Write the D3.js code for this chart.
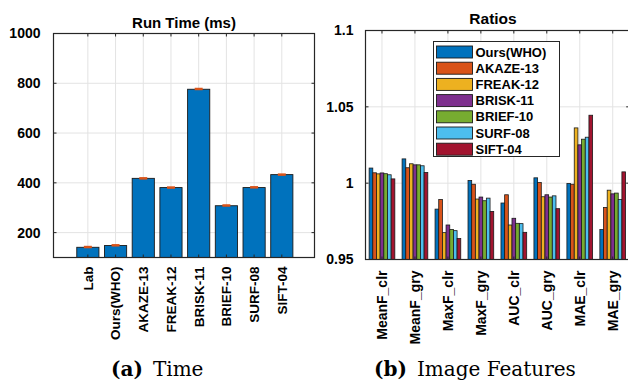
<!DOCTYPE html>
<html>
<head>
<meta charset="utf-8">
<script src="https://cdn.jsdelivr.net/npm/d3@7"></script>
<style>
  body { margin: 0; background: #fff; }
</style>
</head>
<body>
<svg id="fig" width="628" height="383" font-family="'Liberation Sans', Arial, sans-serif"></svg>
<script>
// ---- data ----
const timeCats = ["Lab", "Ours(WHO)", "AKAZE-13", "FREAK-12", "BRISK-11", "BRIEF-10", "SURF-08", "SIFT-04"];
const timeVals = [141, 148, 418, 381, 776, 308, 381, 433];
const timeErr = [4, 4, 3, 3, 4, 4, 4, 3];
const timeTicks = [200, 400, 600, 800, 1000];

const ratioGroups = ["MeanF_clr", "MeanF_gry", "MaxF_clr", "MaxF_gry", "AUC_clr", "AUC_gry", "MAE_clr", "MAE_gry"];
const methods = ["Ours(WHO)", "AKAZE-13", "FREAK-12", "BRISK-11", "BRIEF-10", "SURF-08", "SIFT-04"];
const oursWHO = [1.0099, 1.0159, 0.9830, 1.0017, 0.9870, 1.0035, 0.9998, 0.9696];
const akaze13 = [1.0068, 1.0101, 0.9893, 0.9993, 0.9924, 1.0004, 0.9993, 0.9841];
const freak12 = [1.0061, 1.0127, 0.9676, 0.9896, 0.9726, 0.9911, 1.0362, 0.9954];
const brisk11 = [1.0067, 1.0120, 0.9726, 0.9909, 0.9770, 0.9924, 1.0251, 0.9930];
const brief10 = [1.0062, 1.0120, 0.9696, 0.9885, 0.9737, 0.9909, 1.0288, 0.9935];
const surf08 = [1.0055, 1.0114, 0.9689, 0.9902, 0.9735, 0.9917, 1.0301, 0.9893];
const sift04 = [1.0028, 1.0070, 0.9637, 0.9815, 0.9678, 0.9833, 1.0445, 1.0074];
const ratioSeries = [oursWHO, akaze13, freak12, brisk11, brief10, surf08, sift04];
const ratioTicks = [0.95, 1, 1.05, 1.1];
const colors = ["#0072BD", "#D95319", "#EDB120", "#7E2F8E", "#77AC30", "#4DBEEE", "#A2142F"];

const svg = d3.select("#fig");
const axisCol = "#262626";
const gridCol = "#e3e3e3";

// grid lines behind the bars
function frame(g, x, y, xt, yt, box) {
    g.append("g").selectAll("line").data(xt).join("line")
        .attr("x1", d => x(d)).attr("x2", d => x(d))
        .attr("y1", box.top).attr("y2", box.bottom)
        .attr("stroke", gridCol).attr("stroke-width", 1);
    g.append("g").selectAll("line").data(yt).join("line")
        .attr("x1", box.left).attr("x2", box.right)
        .attr("y1", d => y(d)).attr("y2", d => y(d))
        .attr("stroke", gridCol).attr("stroke-width", 1);
}

// MATLAB style box with inward ticks on all four sides
function boxAndTicks(g, x, y, xt, yt, box) {
    const t = g.append("g").attr("stroke", axisCol).attr("stroke-width", 1);
    xt.forEach(d => {
        t.append("line").attr("x1", x(d)).attr("x2", x(d)).attr("y1", box.top).attr("y2", box.top + 3);
        t.append("line").attr("x1", x(d)).attr("x2", x(d)).attr("y1", box.bottom).attr("y2", box.bottom - 3);
    });
    yt.forEach(d => {
        t.append("line").attr("x1", box.left).attr("x2", box.left + 3).attr("y1", y(d)).attr("y2", y(d));
        t.append("line").attr("x1", box.right).attr("x2", box.right - 3).attr("y1", y(d)).attr("y2", y(d));
    });
    g.append("rect")
        .attr("x", box.left).attr("y", box.top)
        .attr("width", box.right - box.left).attr("height", box.bottom - box.top)
        .attr("fill", "none").attr("stroke", axisCol).attr("stroke-width", 1.2);
}

// ---------- (a) Run time ----------
const boxA = { left: 53.5, right: 314.5, top: 33.5, bottom: 257.5 };
const xA = d3.scaleLinear().domain([-0.24, 9.18]).range([boxA.left, boxA.right]);
const yA = d3.scaleLinear().domain([100, 1000]).range([boxA.bottom, boxA.top]);
const gA = svg.append("g");
const posA = timeCats.map((c, i) => i + 1);

frame(gA, xA, yA, posA, timeTicks, boxA);

const bwA = 0.8;
gA.append("g").selectAll("rect").data(timeVals).join("rect")
    .attr("x", (d, i) => xA(posA[i] - bwA / 2))
    .attr("width", xA(bwA) - xA(0))
    .attr("y", d => yA(d))
    .attr("height", d => yA(100) - yA(d))
    .attr("fill", colors[0]).attr("stroke", "#1a1a1a").attr("stroke-width", 0.9);

// error bars
gA.append("g").selectAll("rect").data(timeVals).join("rect")
    .attr("x", (d, i) => xA(posA[i]) - 4)
    .attr("width", 8)
    .attr("y", (d, i) => yA(d + timeErr[i]) - 0.5)
    .attr("height", (d, i) => Math.max(2.5, yA(d - timeErr[i]) - yA(d + timeErr[i])))
    .attr("fill", colors[1]);

boxAndTicks(gA, xA, yA, posA, timeTicks, boxA);

gA.append("g").selectAll("text").data(timeTicks).join("text")
    .attr("x", boxA.left - 13).attr("y", d => yA(d)).attr("dy", "0.35em")
    .attr("text-anchor", "end").attr("font-size", 14).attr("font-weight", "bold")
    .text(d => d);

gA.append("g").selectAll("text").data(timeCats).join("text")
    .attr("transform", (d, i) => `translate(${xA(posA[i])},${boxA.bottom + 9}) rotate(-90)`)
    .attr("dy", "0.36em")
    .attr("text-anchor", "end").attr("font-size", 13.5).attr("font-weight", "bold")
    .text(d => d);

gA.append("text")
    .attr("x", (boxA.left + boxA.right) / 2).attr("y", 28)
    .attr("text-anchor", "middle").attr("font-size", 15).attr("font-weight", "bold")
    .text("Run Time (ms)");

// ---------- (b) Ratios ----------
const boxB = { left: 365.5, right: 629.2, top: 30.5, bottom: 259.5 };
const xB = d3.scaleLinear().domain([0.5, 8.5]).range([boxB.left, boxB.right]);
const yB = d3.scaleLinear().domain([0.95, 1.1]).range([boxB.bottom, boxB.top]);
const gB = svg.append("g");
const posB = ratioGroups.map((c, i) => i + 1);

frame(gB, xB, yB, posB, ratioTicks, boxB);

const groupW = 0.78;
const bwB = groupW / methods.length;
ratioSeries.forEach((vals, s) => {
    gB.append("g").selectAll("rect").data(vals).join("rect")
        .attr("x", (d, i) => xB(posB[i] - groupW / 2 + s * bwB))
        .attr("width", xB(bwB) - xB(0))
        .attr("y", d => yB(d))
        .attr("height", d => yB(0.95) - yB(d))
        .attr("fill", colors[s]).attr("stroke", "#1a1a1a").attr("stroke-width", 0.8);
});

boxAndTicks(gB, xB, yB, posB, ratioTicks, boxB);

gB.append("g").selectAll("text").data(ratioTicks).join("text")
    .attr("x", boxB.left - 12).attr("y", d => yB(d)).attr("dy", "0.35em")
    .attr("text-anchor", "end").attr("font-size", 14).attr("font-weight", "bold")
    .text(d => d);

gB.append("g").selectAll("text").data(ratioGroups).join("text")
    .attr("transform", (d, i) => `translate(${xB(posB[i])},${boxB.bottom + 11}) rotate(-90)`)
    .attr("dy", "0.36em")
    .attr("text-anchor", "end").attr("font-size", 14).attr("font-weight", "bold")
    .text(d => d);

gB.append("text")
    .attr("x", 493).attr("y", 24)
    .attr("text-anchor", "middle").attr("font-size", 15.5).attr("font-weight", "bold")
    .text("Ratios");

// legend
const lg = gB.append("g").attr("transform", "translate(433.5,41.5)");
lg.append("rect").attr("width", 126).attr("height", 115)
    .attr("fill", "#fff").attr("stroke", axisCol).attr("stroke-width", 1);
const item = lg.selectAll("g.item").data(methods).join("g")
    .attr("transform", (d, i) => `translate(3,${4.5 + i * 16.2})`);
item.append("rect").attr("width", 36).attr("height", 12)
    .attr("fill", (d, i) => colors[i]).attr("stroke", "#1a1a1a").attr("stroke-width", 0.9);
item.append("text").attr("x", 39).attr("y", 6).attr("dy", "0.36em")
    .attr("font-size", 13).attr("font-weight", "bold")
    .text(d => d);

// captions
const cap = svg.append("g").attr("font-family", "'DejaVu Serif', serif").attr("font-size", 20);
const ca = cap.append("text").attr("x", 111).attr("y", 376);
ca.append("tspan").attr("font-weight", "bold").text("(a)");
ca.append("tspan").text("\u2002Time");
const cb = cap.append("text").attr("x", 374).attr("y", 376);
cb.append("tspan").attr("font-weight", "bold").text("(b)");
cb.append("tspan").text("\u2002Image Features");
</script>
</body>
</html>
